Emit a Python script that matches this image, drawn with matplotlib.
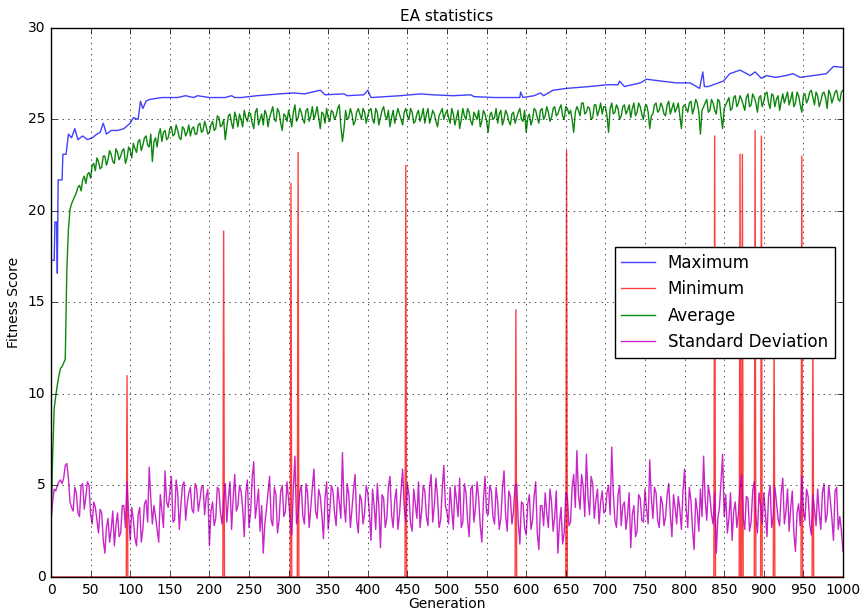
import numpy as np
import matplotlib
matplotlib.use('Agg')
import matplotlib.pyplot as plt

# average / std-dev read every 4th generation (0, 4, 8 ...) ...
average = [
    2.6, 9.2, 10.5, 11.4, 11.7, 16.8, 20.1, 20.6, 21.0, 21.4, 21.7, 21.5, 22.1, 22.5, 22.2, 22.7, 22.4, 23.0, 22.8, 23.1, 22.6, 23.2, 23.0, 23.4, 22.9,
    23.3, 23.7, 23.2, 23.9, 23.6, 24.1, 23.5, 22.7, 24.0, 24.2, 23.8, 24.4, 24.0, 24.6, 24.2, 24.4, 23.9, 24.5, 24.3, 24.1, 24.6, 24.2, 24.8, 24.4, 24.6,
    24.3, 24.9, 24.5, 25.1, 24.7, 23.9, 25.2, 24.8, 25.4, 24.6, 25.0, 25.5, 24.9, 25.3, 24.5, 25.6, 25.0, 24.7, 25.3, 25.1, 25.7, 24.9, 25.4, 24.4, 25.2,
    25.5, 24.6, 25.8, 25.1, 25.4, 24.8, 25.6, 25.2, 25.0, 25.7, 24.5, 25.3, 25.6, 24.9, 25.4, 25.2, 25.8, 23.8, 25.5, 25.1, 25.3, 24.9, 25.6, 25.0, 25.4,
    25.2, 25.6, 24.8, 25.4, 25.1, 25.7, 25.0, 24.6, 25.5, 25.2, 25.3, 24.7, 25.6, 25.0, 25.4, 24.9, 25.5, 25.2, 24.8, 25.6, 25.1, 25.3, 24.6, 25.4, 25.0,
    25.5, 24.8, 25.3, 25.1, 24.5, 25.6, 25.0, 25.4, 24.7, 25.2, 25.5, 24.9, 25.3, 24.3, 25.4, 25.1, 24.8, 25.5, 25.0, 25.3, 24.7, 25.4, 25.1, 25.6, 24.9,
    24.3, 25.3, 25.0, 25.5, 24.8, 25.6, 25.2, 25.4, 25.1, 25.7, 25.3, 25.8, 25.0, 25.6, 25.5, 24.3, 25.7, 25.2, 25.9, 25.4, 25.6, 25.1, 25.8, 25.5, 25.3,
    25.7, 24.3, 25.9, 25.4, 25.6, 25.2, 25.8, 25.5, 25.1, 25.9, 25.4, 25.7, 25.0, 25.8, 24.5, 25.3, 25.9, 25.5, 25.7, 25.2, 26.0, 25.6, 25.4, 25.9, 24.5,
    25.8, 25.4, 26.0, 25.6, 25.9, 24.2, 25.7, 26.1, 25.5, 25.9, 25.3, 26.0, 24.5, 25.8, 26.2, 25.6, 26.3, 25.9, 26.1, 25.5, 26.4, 25.8, 26.2, 25.4, 26.3,
    26.0, 26.5, 25.6, 26.3, 26.1, 25.5, 26.4, 26.2, 25.8, 26.5, 25.9, 26.3, 25.4, 26.4, 26.1, 26.6, 25.8, 26.3, 26.0, 26.5, 25.6, 26.4, 26.2, 26.6, 26.0,
    26.6]

std_dev = [
    3.0, 4.8, 5.0, 5.3, 5.4, 6.2, 4.1, 3.6, 4.6, 3.3, 5.1, 4.4, 5.0, 2.9, 3.8, 2.4, 3.5, 1.3, 3.2, 2.6, 1.7, 3.5, 2.4, 3.9, 5.2,
    2.0, 3.1, 1.7, 3.8, 2.6, 4.2, 6.0, 2.9, 3.3, 1.9, 3.6, 5.8, 3.8, 5.5, 3.1, 4.6, 3.9, 5.2, 4.0, 4.9, 3.5, 4.8, 4.2, 5.0, 4.4,
    1.7, 4.1, 3.2, 4.8, 2.9, 5.1, 4.3, 2.6, 5.6, 3.9, 4.7, 2.2, 5.3, 3.5, 6.3, 4.0, 2.5, 1.3, 3.7, 5.5, 2.8, 4.5, 3.1, 5.0, 3.6,
    4.2, 2.3, 6.6, 3.4, 5.0, 2.9, 4.6, 3.8, 5.9, 3.2, 4.4, 2.1, 5.2, 3.6, 4.7, 2.8, 4.1, 6.8, 3.0, 4.5, 3.7, 5.6, 2.4, 4.2, 3.5,
    4.6, 2.0, 3.9, 5.1, 1.6, 4.3, 3.2, 5.5, 2.7, 4.8, 3.4, 5.9, 3.0, 4.5, 2.5, 4.0, 5.2, 3.6, 4.7, 2.8, 5.6, 3.9, 4.4, 3.1, 6.1,
    3.5, 4.9, 2.6, 4.2, 5.4, 3.0, 4.6, 2.2, 5.0, 3.8, 4.3, 1.9, 5.5, 3.4, 4.7, 2.9, 4.1, 3.2, 5.8, 2.5, 4.4, 3.6, 5.1, 1.8, 4.0,
    2.3, 4.5, 3.1, 5.2, 1.5, 3.9, 4.6, 2.7, 4.1, 3.3, 1.3, 3.8, 2.4, 4.4, 3.0, 5.6, 6.9, 3.7, 4.9, 6.7, 3.4, 5.1, 4.2, 2.9, 4.7,
    3.6, 5.0, 7.1, 3.1, 4.5, 2.8, 4.1, 3.4, 1.6, 3.9, 2.5, 4.3, 3.0, 3.7, 6.4, 3.2, 4.6, 2.7, 4.0, 3.3, 5.1, 2.2, 3.8, 4.4, 2.6,
    5.9, 2.7, 4.2, 1.5, 3.6, 4.8, 6.6, 3.1, 4.4, 2.9, 1.3, 3.8, 6.7, 4.5, 3.2, 2.0, 4.1, 3.5, 5.6, 2.6, 4.3, 3.0, 5.2, 2.4, 3.9,
    4.6, 2.2, 5.0, 3.3, 4.1, 2.8, 5.4, 3.6, 2.5, 4.7, 1.4, 4.0, 5.5, 3.1, 4.4, 2.3, 3.7, 4.8, 2.6, 5.1, 3.4, 4.2, 2.0, 4.9, 3.3,
    1.4]

# ... and the generations in between (2, 6, 10 ... 998)
average_mid = [
    6.5, 9.9, 11.0, 11.5, 11.9, 19.0, 20.4, 20.8, 21.3, 21.1, 21.9, 22.0, 21.8, 22.6, 22.9, 22.3, 23.0, 22.5, 23.3, 22.7, 23.4, 22.8, 23.3, 22.6, 23.5,
    22.9, 23.4, 23.8, 23.3, 24.0, 23.6, 24.2, 23.8, 23.5, 24.5, 24.3, 23.9, 24.5, 24.1, 24.7, 24.0, 24.6, 24.1, 24.7, 24.5, 24.2, 24.7, 24.3, 24.9, 24.2,
    24.7, 24.4, 25.2, 24.6, 25.0, 24.6, 25.3, 24.5, 25.1, 25.3, 24.6, 25.1, 25.4, 24.8, 25.4, 24.7, 25.3, 25.5, 24.6, 25.4, 25.0, 25.6, 24.8, 25.3, 24.9,
    25.1, 25.4, 24.9, 25.6, 25.0, 25.5, 24.9, 25.7, 25.3, 25.1, 25.4, 24.8, 25.1, 25.5, 25.0, 25.6, 24.6, 24.5, 25.0, 25.6, 24.7, 25.4, 25.3, 25.6, 24.8,
    25.5, 25.0, 25.6, 24.7, 25.5, 25.2, 25.5, 25.1, 24.8, 25.6, 25.0, 25.4, 25.2, 25.6, 24.8, 25.3, 24.9, 25.6, 25.3, 24.8, 25.5, 24.9, 25.2, 25.6, 25.3,
    25.1, 25.6, 24.7, 25.5, 25.0, 25.2, 25.6, 24.9, 25.4, 25.0, 24.6, 25.5, 24.9, 25.2, 25.0, 25.6, 25.3, 24.7, 25.5, 24.9, 25.3, 24.8, 25.4, 25.0, 25.5,
    25.1, 24.7, 25.6, 25.1, 25.5, 25.0, 25.7, 24.9, 25.6, 25.2, 25.6, 25.2, 25.7, 25.3, 25.0, 25.4, 25.5, 25.9, 25.3, 25.7, 25.0, 25.8, 25.2, 25.9, 25.7,
    25.2, 25.6, 25.3, 25.8, 25.0, 25.7, 25.3, 25.8, 25.6, 25.2, 25.9, 25.3, 25.7, 25.4, 25.2, 25.8, 25.4, 25.9, 25.3, 25.8, 25.3, 25.9, 25.6, 25.2, 25.7,
    25.6, 25.9, 25.3, 26.1, 25.4, 25.5, 25.9, 25.4, 26.1, 25.5, 26.1, 25.2, 25.6, 26.0, 25.5, 26.2, 25.7, 26.3, 25.8, 26.2, 25.7, 26.4, 25.9, 26.2, 25.7,
    26.4, 25.9, 26.4, 25.7, 26.3, 26.0, 25.9, 26.5, 26.1, 25.7, 26.5, 25.8, 26.3, 25.9, 26.5, 26.2, 26.5, 25.7, 26.4, 26.2, 26.6, 25.9, 26.5, 26.1, 26.5]

std_dev_mid = [
    4.1, 4.7, 5.2, 5.1, 6.1, 5.4, 3.8, 4.9, 3.5, 5.0, 3.7, 5.2, 3.4, 4.1, 3.1, 3.7, 2.0, 2.7, 1.9, 3.6, 2.8, 2.2, 3.9, 2.7, 3.4,
    3.8, 2.1, 3.4, 1.9, 4.0, 3.0, 4.3, 3.9, 2.6, 4.5, 2.7, 4.1, 4.6, 3.0, 5.3, 2.6, 5.0, 3.1, 4.6, 3.7, 5.1, 3.6, 4.9, 3.4, 4.8,
    3.6, 2.8, 4.9, 3.5, 4.2, 3.0, 5.2, 4.3, 3.6, 5.0, 3.8, 4.6, 2.7, 5.4, 3.2, 4.8, 3.9, 2.9, 4.6, 3.1, 4.9, 2.4, 4.7, 3.3, 5.2,
    3.1, 4.8, 2.9, 4.6, 3.3, 5.1, 2.7, 4.9, 3.6, 4.8, 3.4, 4.3, 2.6, 5.0, 3.5, 4.9, 3.2, 4.0, 5.1, 2.7, 4.8, 3.1, 4.5, 2.9, 5.0,
    3.5, 4.8, 2.6, 3.8, 4.5, 2.7, 4.9, 3.4, 4.2, 2.6, 4.7, 3.8, 5.1, 2.9, 4.8, 3.2, 2.7, 5.0, 3.3, 4.9, 3.0, 5.4, 2.7, 4.8, 3.9,
    2.9, 3.7, 5.0, 3.3, 2.7, 5.1, 3.1, 4.8, 3.0, 5.2, 2.8, 4.2, 3.5, 5.0, 3.3, 4.9, 2.6, 4.8, 3.4, 4.7, 2.9, 5.0, 3.0, 4.1, 2.7,
    4.0, 2.6, 4.4, 2.4, 3.9, 2.8, 3.5, 4.8, 2.5, 4.7, 2.9, 1.8, 4.6, 2.8, 4.9, 3.8, 4.5, 5.6, 3.3, 4.4, 5.5, 3.2, 4.8, 4.1, 3.5,
    4.6, 3.4, 4.6, 2.7, 5.0, 3.9, 2.6, 4.6, 3.4, 2.2, 4.5, 3.1, 4.8, 2.9, 4.3, 4.9, 3.1, 4.4, 2.8, 4.5, 3.4, 4.5, 2.9, 3.7, 4.7,
    3.7, 4.9, 2.6, 4.3, 2.5, 3.3, 4.2, 5.0, 3.4, 4.6, 3.2, 5.2, 3.3, 2.4, 4.6, 3.6, 2.7, 4.9, 3.2, 4.4, 2.5, 4.7, 3.3, 4.6, 2.9,
    3.5, 4.4, 2.7, 4.9, 3.2, 4.6, 2.9, 4.8, 3.8, 2.4, 3.5, 2.8, 3.6, 4.8, 2.9, 4.5, 2.8, 3.5, 4.6, 3.0, 5.0, 3.2, 4.7, 2.6, 2.5]

# maximum: read as (generation, value) breakpoints
max_gens = [0, 4, 5, 7, 8, 9, 14, 15, 19, 22, 26, 30, 34, 40, 46, 52, 58, 62, 66, 70, 76, 84, 92,
            100, 104, 110, 113, 116, 120, 125, 140, 160, 170, 180, 185, 200, 220, 228, 232, 240, 260,
            289, 306, 320, 340, 346, 370, 374, 395, 400, 404, 441, 467, 481, 508, 530, 534, 560, 592,
            593, 596, 610, 618, 622, 634, 651, 680, 702, 716, 718, 724, 744, 752, 770, 790, 807, 819,
            823, 825, 830, 849, 857, 870, 883, 889, 897, 903, 915, 928, 937, 946, 962, 979, 988, 1000]
max_vals = [17.3, 17.3, 19.4, 19.4, 16.6, 21.7, 21.7, 23.1, 23.1, 24.2, 24.0, 24.5, 23.9, 24.1, 23.9, 24.0, 24.2, 24.3, 24.8, 24.2, 24.4, 24.4, 24.5,
            24.8, 25.1, 25.0, 26.0, 25.6, 26.0, 26.1, 26.2, 26.2, 26.3, 26.2, 26.3, 26.2, 26.2, 26.3, 26.2, 26.2, 26.3,
            26.4, 26.45, 26.4, 26.6, 26.35, 26.4, 26.3, 26.35, 26.6, 26.2, 26.3, 26.4, 26.35, 26.3, 26.35, 26.25, 26.2, 26.2,
            26.5, 26.2, 26.3, 26.45, 26.3, 26.6, 26.7, 26.8, 26.9, 26.9, 27.1, 26.8, 27.0, 27.2, 27.1, 27.0, 27.0, 26.7,
            27.6, 26.8, 26.8, 27.1, 27.5, 27.7, 27.4, 27.6, 27.25, 27.4, 27.3, 27.4, 27.5, 27.3, 27.4, 27.5, 27.9, 27.85]

# minimum: zero except for these generations
spike_gens = [96, 218, 303, 312, 448, 587, 651, 838, 870, 873, 889, 897, 913, 948, 962]
spike_vals = [11.0, 18.9, 21.5, 23.2, 22.5, 14.6, 23.3, 24.1, 23.1, 23.1, 24.4, 24.1, 13.0, 23.0, 13.0]

gens = np.arange(0, 1001, 2)
avg_all = np.empty(len(gens))
avg_all[0::2] = average
avg_all[1::2] = average_mid
std_all = np.empty(len(gens))
std_all[0::2] = std_dev
std_all[1::2] = std_dev_mid

all_gens = np.arange(0, 1001)
minimum = np.zeros(len(all_gens))
minimum[spike_gens] = spike_vals

plt.style.use('classic')
fig = plt.figure(figsize=(8.63, 6.14), dpi=100, facecolor='white')
ax = fig.add_axes([0.0591, 0.0603, 0.9177, 0.8941])

ax.plot(max_gens, max_vals, color='b', lw=1.0, alpha=0.75, label='Maximum')
ax.plot(all_gens, minimum, color='r', lw=1.0, alpha=0.75, label='Minimum')
ax.plot(gens, avg_all, color='g', lw=1.0, alpha=0.95, label='Average')
ax.plot(gens, std_all, color='m', lw=1.0, alpha=0.85, label='Standard Deviation')

ax.set_xlim(0, 1000)
ax.set_ylim(0, 30)
ax.set_xticks(np.arange(0, 1001, 50))
ax.set_yticks(np.arange(0, 31, 5))
ax.tick_params(labelsize=10)
ax.grid(True, color='k', linestyle=':', linewidth=0.5)

ax.set_title('EA statistics', fontsize=11)
ax.set_xlabel('Generation', fontsize=10, labelpad=0)
ax.set_ylabel('Fitness Score', fontsize=10)

leg = ax.legend(loc='center right', fontsize=12, fancybox=False, numpoints=1)
leg.get_frame().set_linewidth(1.0)

fig.savefig('out.png', dpi=100, facecolor='white')
